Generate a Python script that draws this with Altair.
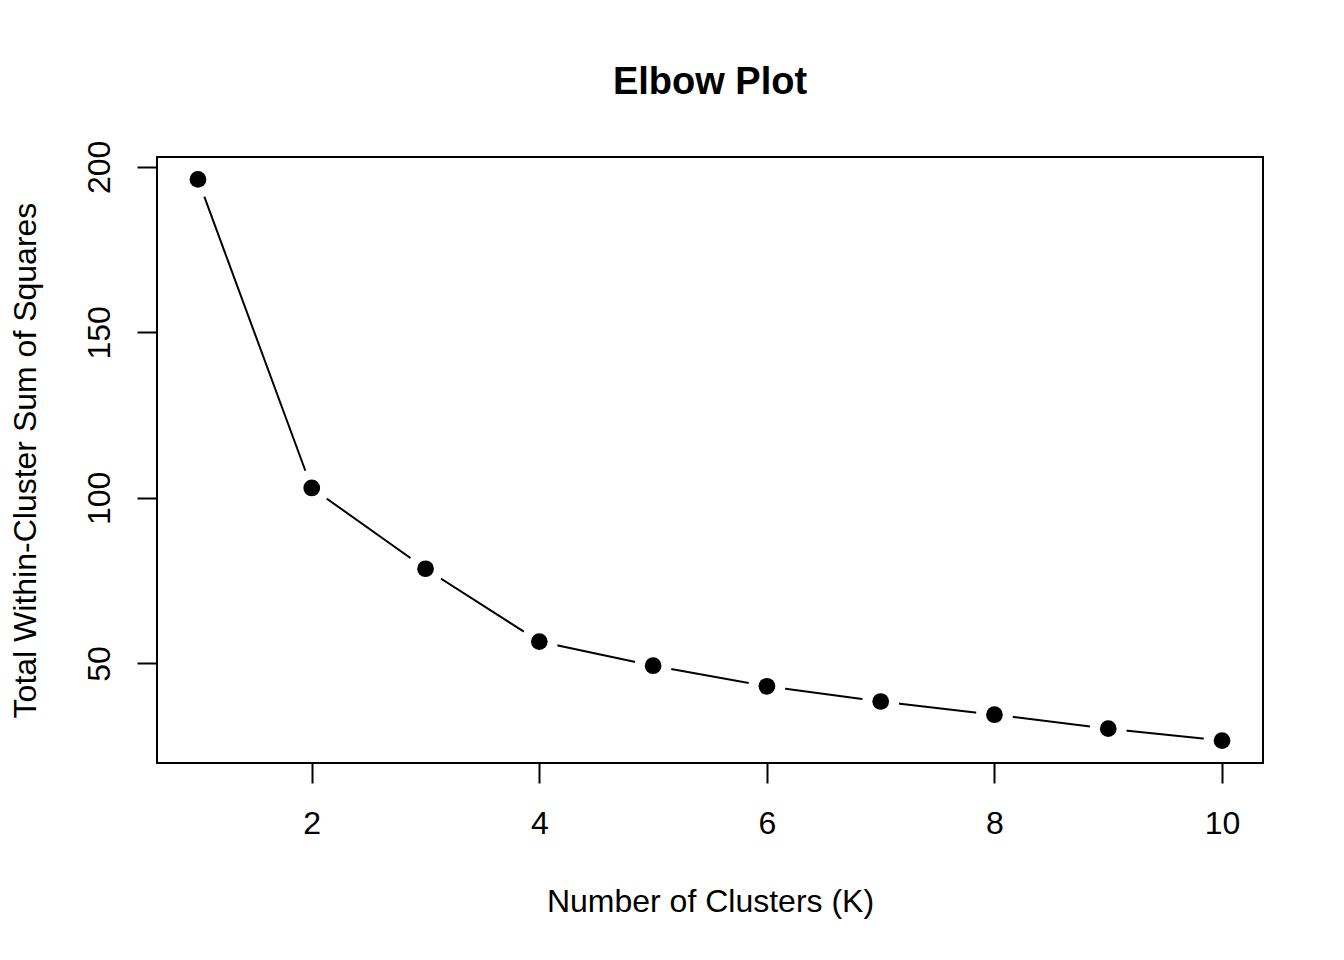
import altair as alt
import pandas as pd

k_values = [1, 2, 3, 4, 5, 6, 7, 8, 9, 10]
wss_values = [196.2, 103.0, 78.6, 56.6, 49.3, 43.1, 38.5, 34.5, 30.3, 26.7]
x_ticks = [2, 4, 6, 8, 10]
y_ticks = [50, 100, 150, 200]

df = pd.DataFrame({"k": k_values, "wss": wss_values})

# R-style 4% axis extension
xmin, xmax = min(k_values), max(k_values)
ymin, ymax = min(wss_values), max(wss_values)
xpad = (xmax - xmin) * 0.04
ypad = (ymax - ymin) * 0.04

FONT = "Liberation Sans, Arial, Helvetica, sans-serif"

xenc = alt.X(
    "k:Q",
    scale=alt.Scale(domain=[xmin - xpad, xmax + xpad], nice=False, zero=False),
    axis=alt.Axis(
        values=x_ticks, title="Number of Clusters (K)", grid=False, domain=False,
        tickSize=20, tickWidth=2, tickColor="black",
        labelFontSize=32, labelFont=FONT, labelColor="black",
        labelBaseline="alphabetic", labelPadding=50,
        titleFontSize=32, titleFont=FONT, titleFontWeight="normal", titleColor="black",
        titleBaseline="alphabetic", titleY=148,
    ),
)
yenc = alt.Y(
    "wss:Q",
    scale=alt.Scale(domain=[ymin - ypad, ymax + ypad], nice=False, zero=False),
    axis=alt.Axis(
        values=y_ticks, title="Total Within-Cluster Sum of Squares", grid=False, domain=False,
        tickSize=20, tickWidth=2, tickColor="black",
        labelFontSize=32, labelFont=FONT, labelColor="black",
        labelAngle=270, labelAlign="center", labelBaseline="alphabetic", labelPadding=28,
        titleFontSize=32, titleFont=FONT, titleFontWeight="normal", titleColor="black",
        titleBaseline="alphabetic", titleX=-122, titleAngle=270,
    ),
)

base = alt.Chart(df).encode(x=xenc, y=yenc)

line = base.mark_line(color="black", strokeWidth=2)
halo = base.mark_point(filled=True, shape="circle", size=1369, color="white", opacity=1)
dots = base.mark_point(filled=True, shape="circle", size=280, color="black", opacity=1)

chart = (
    alt.layer(line, halo, dots)
    .properties(
        width=1106,
        height=606,
        autosize=alt.AutoSizeParams(type="none"),
        padding={"left": 149, "top": 149, "right": 73, "bottom": 180},
        background="white",
        title=alt.TitleParams(
            "Elbow Plot", fontSize=38, font=FONT, fontWeight="bold", color="black",
            anchor="middle", baseline="alphabetic", offset=8,
        ),
    )
    .configure_view(stroke="black", strokeWidth=2, fill="white")
)

chart.save("out.html", embed_options={"renderer": "svg", "actions": False})
